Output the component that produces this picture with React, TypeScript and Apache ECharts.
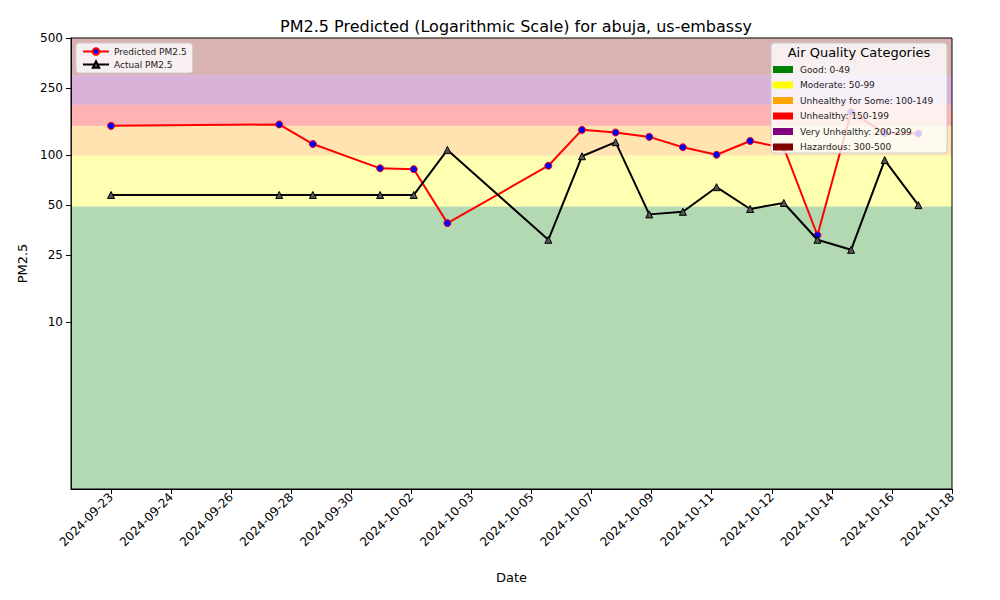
import React, { useEffect, useRef } from 'react'
import * as echarts from 'echarts'

// days since 2024-09-23
const predDays = [0, 5, 6, 8, 9, 10, 13, 14, 15, 16, 17, 18, 19, 20, 21, 22, 23, 24]
const predVals = [149, 152, 116, 83, 82, 39, 86, 141, 136, 128, 111, 100, 121, 110, 33, 180, 135, 134]
const actDays = [0, 5, 6, 8, 9, 10, 13, 14, 15, 16, 17, 18, 19, 20, 21, 22, 23, 24]
const actVals = [57.5, 57.5, 57.5, 57.5, 57.5, 107, 31, 98, 119, 44, 45.6, 64, 47.4, 51.5, 31, 27, 93, 50]
const tickLabels = ['2024-09-23', '2024-09-24', '2024-09-26', '2024-09-28', '2024-09-30', '2024-10-02', '2024-10-03',
  '2024-10-05', '2024-10-07', '2024-10-09', '2024-10-11', '2024-10-12', '2024-10-14', '2024-10-16', '2024-10-18']
const yTicks = [10, 25, 50, 100, 250, 500]
const bands = [
  { name: 'Good: 0-49', from: 1, to: 49, color: 'rgba(0,128,0,0.3)', solid: '#008000' },
  { name: 'Moderate: 50-99', from: 49, to: 99, color: 'rgba(255,255,0,0.3)', solid: '#ffff00' },
  { name: 'Unhealthy for Some: 100-149', from: 99, to: 149, color: 'rgba(255,165,0,0.3)', solid: '#ffa500' },
  { name: 'Unhealthy: 150-199', from: 149, to: 199, color: 'rgba(255,0,0,0.3)', solid: '#ff0000' },
  { name: 'Very Unhealthy: 200-299', from: 199, to: 299, color: 'rgba(128,0,128,0.3)', solid: '#800080' },
  { name: 'Hazardous: 300-500', from: 299, to: 500, color: 'rgba(128,0,0,0.3)', solid: '#800000' },
]

const STEP = 25 / 14
const FONT = 'DejaVu Sans'

const App: React.FC = () => {
  const ref = useRef<HTMLDivElement>(null)
  useEffect(() => {
    if (!ref.current) return
    const chart = echarts.init(ref.current, null, { renderer: 'svg' })
    const tickVals = tickLabels.map((_, i) => i * STEP)
    const legendItems: any[] = []
    bands.forEach((b, i) => {
      const y = 66 + i * 15.5
      legendItems.push({ type: 'rect', z: 20, shape: { x: 773, y, width: 20, height: 7 }, style: { fill: b.solid } })
      legendItems.push({ type: 'text', z: 20, x: 800, y: y - 1, style: { text: b.name, font: `9px ${FONT}`, fill: '#222' } })
    })
    chart.setOption({
      animation: false,
      textStyle: { fontFamily: FONT },
      title: { text: 'PM2.5 Predicted (Logarithmic Scale) for abuja, us-embassy', left: 511, top: 13, textAlign: 'center',
        textStyle: { fontSize: 16, fontWeight: 'normal', color: '#000' } },
      grid: { left: 71, right: 48, top: 38, bottom: 111, show: false },
      legend: {
        left: 76, top: 43, orient: 'vertical', itemGap: 4, itemWidth: 26, itemHeight: 8,
        backgroundColor: 'rgba(255,255,255,0.8)', borderColor: '#ccc', borderWidth: 1, borderRadius: 3, padding: [4, 6],
        textStyle: { fontSize: 9, color: '#222' },
        data: ['Predicted PM2.5', 'Actual PM2.5'],
      },
      xAxis: {
        type: 'value', min: -1.19, max: 25, name: 'Date', nameLocation: 'middle', nameGap: 82,
        nameTextStyle: { fontSize: 13, color: '#000' },
        axisLine: { onZero: false, lineStyle: { color: '#000' } },
        axisTick: { customValues: tickVals, length: 5, lineStyle: { color: '#000' } },
        axisLabel: { customValues: tickVals, rotate: 45, fontSize: 12, color: '#000', margin: 6,
          formatter: (v: number) => tickLabels[Math.round(v / STEP)] ?? '' },
        splitLine: { show: false },
      },
      yAxis: {
        type: 'log', min: 1, max: 500, logBase: 10, name: 'PM2.5', nameLocation: 'middle', nameGap: 40,
        nameTextStyle: { fontSize: 13, color: '#000' },
        axisLine: { show: true, onZero: false, lineStyle: { color: '#000' } },
        axisTick: { customValues: yTicks, length: 5, lineStyle: { color: '#000' } },
        axisLabel: { customValues: yTicks, fontSize: 12, color: '#000' },
        splitLine: { show: false },
      },
      graphic: [
        { type: 'rect', z: 19, shape: { x: 771, y: 43, width: 176, height: 110, r: 3 },
          style: { fill: 'rgba(255,255,255,0.8)', stroke: '#ccc', lineWidth: 1 } },
        { type: 'text', z: 20, x: 859, y: 46, style: { text: 'Air Quality Categories', font: `13px ${FONT}`, fill: '#000', textAlign: 'center' } },
        ...legendItems,
        { type: 'rect', z: 21, shape: { x: 71, y: 38, width: 881, height: 451 }, style: { fill: 'none', stroke: '#000', lineWidth: 1 } },
      ],
      series: [
        {
          type: 'line', name: 'bands', data: [], silent: true,
          markArea: { silent: true, data: bands.map(b => [
            { yAxis: b.from, itemStyle: { color: b.color } }, { yAxis: b.to }]) },
        },
        {
          type: 'line', name: 'Predicted PM2.5', data: predDays.map((d, i) => [d, predVals[i]]),
          symbol: 'circle', symbolSize: 7, lineStyle: { color: '#ff0000', width: 2 },
          itemStyle: { color: '#0000ff', borderColor: '#ff0000', borderWidth: 1 }, z: 3,
        },
        {
          type: 'line', name: 'Actual PM2.5', data: actDays.map((d, i) => [d, actVals[i]]),
          symbol: 'triangle', symbolSize: 7, lineStyle: { color: '#000', width: 2 },
          itemStyle: { color: '#555', borderColor: '#000', borderWidth: 1 }, z: 4,
        },
      ],
    })
    return () => chart.dispose()
  }, [])
  return <div ref={ref} style={{ width: 1000, height: 600, margin: -8 }} />
}

export default App
